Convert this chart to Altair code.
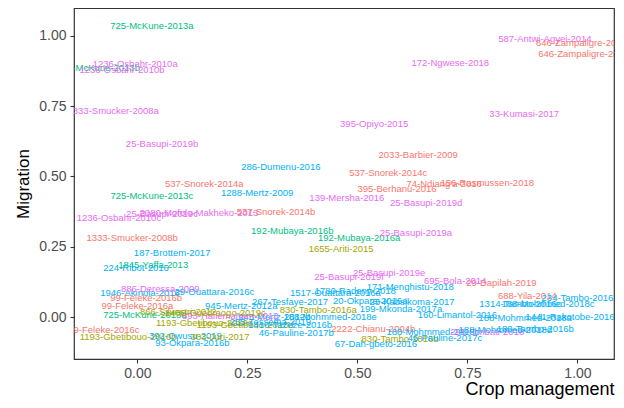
import altair as alt
import pandas as pd

labels = [
    "725-McKune-2013a", "725-McKune-2013b", "1236-Osbahr-2010a", "1236-Osbahr-2010b",
    "1333-Smucker-2008a", "172-Ngwese-2018", "587-Antwi-Agyei-2014", "646-Zampaligre-2014a",
    "646-Zampaligre-2014b", "33-Kumasi-2017", "395-Opiyo-2015", "25-Basupi-2019b",
    "286-Dumenu-2016", "537-Snorek-2014a", "1288-Mertz-2009", "725-McKune-2013c",
    "1236-Osbahr-2010c", "25-Basupi-2019c", "2080-Mofolo-Makheko-2013", "537-Snorek-2014b",
    "1333-Smucker-2008b", "187-Brottem-2017", "192-Mubaya-2016b", "192-Mubaya-2016a",
    "1655-Ariti-2015", "139-Mersha-2016", "2033-Barbier-2009", "537-Snorek-2014c",
    "395-Berhanu-2016", "74-Ndiang'a-2016", "156-Rasmussen-2018", "25-Basupi-2019d",
    "25-Basupi-2019a", "1845-Yaffa-2013", "224-Ribot-2016", "1946-Akinola-2016",
    "886-Deressa-2009", "99-Feleke-2016b", "29-Ouattara-2016c", "99-Feleke-2016a",
    "725-McKune-2013d", "866-Silvestri-2012", "1193-Gbetibouo-2010c", "99-Feleke-2016c",
    "1193-Gbetibouo-2010b", "392-Owusu-2019", "93-Okpara-2016b", "303-Juri-2017",
    "945-Mertz-2012a", "945-Mertz-2012b", "188-Mohmmed-2018e", "267-Tesfaye-2017",
    "830-Tambo-2016a", "830-Tambo-2016b", "1517-Ouattara-2016a", "1780-Radeny-2018",
    "171-Menghistu-2018", "20-Okpara-2016a", "23-Kabsikoma-2017", "199-Mkonda-2017a",
    "160-Limantol-2016", "2222-Chianu-2004b", "46-Pauline-2017b", "67-Dah-gbeto-2016",
    "46-Pauline-2017c", "188-Mohmmed-2018b", "295-Ombati-2018", "188-Mohmmed-2018d",
    "180-Tambo-2016b", "1314-Tambo-2016c", "188-Mohmmed-2018c", "688-Yila-2014",
    "234-Tambo-2016a", "188-Mohmmed-2018a", "1441-Rakotobe-2016", "29-Dapilah-2019",
    "695-Bola-2014", "25-Basupi-2019e", "25-Basupi-2019f", "1193-Gbetibouo-2010d",
    "255-Tessema-2019", "1410-Tazeze-2016b", "893-Hailemariam-2013", "1406-Ouedraogo-2019c",
]

crop = [
    0.033, -0.089, -0.005, -0.035,
    -0.055, 0.711, 0.926, 1.015,
    1.020, 0.879, 0.538, 0.056,
    0.326, 0.152, 0.272, 0.033,
    -0.042, 0.056, 0.140, 0.315,
    -0.012, 0.079, 0.352, 0.504,
    0.463, 0.476, 0.638, 0.570,
    0.590, 0.697, 0.795, 0.656,
    0.633, 0.036, -0.003, 0.006,
    0.052, 0.020, 0.175, 0.000,
    0.017, 0.093, 0.152, -0.076,
    -0.021, 0.109, 0.125, 0.188,
    0.236, 0.311, 0.438, 0.347,
    0.411, 0.597, 0.450, 0.495,
    0.620, 0.529, 0.624, 0.599,
    0.727, 0.536, 0.361, 0.542,
    0.699, 0.672, 0.795, 0.836,
    0.904, 0.870, 0.933, 0.886,
    1.006, 0.881, 0.983, 0.827,
    0.722, 0.572, 0.481, 0.245,
    0.302, 0.347, 0.211, 0.177,
]

migration = [
    1.035, 0.886, 0.900, 0.879,
    0.733, 0.903, 0.988, 0.974,
    0.935, 0.723, 0.687, 0.616,
    0.535, 0.475, 0.443, 0.429,
    0.354, 0.368, 0.371, 0.375,
    0.283, 0.227, 0.305, 0.283,
    0.241, 0.422, 0.577, 0.514,
    0.457, 0.475, 0.478, 0.407,
    0.298, 0.184, 0.174, 0.085,
    0.099, 0.067, 0.089, 0.039,
    0.007, 0.018, -0.021, -0.046,
    -0.071, -0.067, -0.092, -0.071,
    0.039, 0.000, 0.000, 0.053,
    0.025, -0.078, 0.085, 0.092,
    0.106, 0.057, 0.053, 0.028,
    0.007, -0.043, -0.057, -0.096,
    -0.074, -0.053, -0.053, -0.046,
    -0.043, 0.046, 0.046, 0.074,
    0.067, -0.004, 0.000, 0.120,
    0.128, 0.156, 0.142, -0.028,
    -0.018, -0.028, 0.004, 0.014,
]

# group codes: 1 salmon, 2 olive, 3 green, 4 blue, 5 pink
group = [
    3, 3, 5, 5,
    5, 5, 5, 1,
    1, 5, 5, 5,
    4, 1, 4, 3,
    5, 5, 5, 1,
    1, 4, 3, 3,
    2, 5, 1, 1,
    1, 1, 1, 5,
    5, 3, 4, 4,
    5, 1, 4, 1,
    3, 2, 2, 1,
    2, 4, 4, 2,
    4, 4, 4, 4,
    2, 2, 4, 4,
    4, 4, 4, 4,
    4, 1, 4, 4,
    4, 4, 5, 4,
    4, 4, 4, 1,
    4, 4, 4, 1,
    5, 5, 5, 2,
    4, 4, 5, 2,
]

group_names = ["1", "2", "3", "4", "5"]
group_colors = ["#F8766D", "#A3A500", "#00BF7D", "#00B0F6", "#E76BF3"]
x_ticks = [0.0, 0.25, 0.5, 0.75, 1.0]
y_ticks = [0.0, 0.25, 0.5, 0.75, 1.0]

df = pd.DataFrame({
    "label": labels,
    "crop": crop,
    "migration": migration,
    "group": [str(g) for g in group],
})

chart = alt.Chart(df).mark_text(
    font="Liberation Sans", fontSize=9.5, clip=True, align="center", baseline="middle"
).encode(
    x=alt.X("crop:Q", title="Crop management",
            scale=alt.Scale(domain=[-0.144, 1.083], nice=False, zero=False),
            axis=alt.Axis(values=x_ticks, format=".2f", titleAnchor="end", titleAlign="right",
                          titleFontSize=18, titlePadding=0, labelPadding=3)),
    y=alt.Y("migration:Q", title="Migration",
            scale=alt.Scale(domain=[-0.149, 1.099], nice=False, zero=False),
            axis=alt.Axis(values=y_ticks, format=".2f", titleFontSize=17, titlePadding=6)),
    color=alt.Color("group:N", scale=alt.Scale(domain=group_names, range=group_colors), legend=None),
    text="label:N",
).properties(
    width=540, height=351,
    autosize=alt.AutoSizeParams(type="none"),
    padding={"left": 66, "top": 0, "right": 2, "bottom": 41},
).configure_view(
    stroke="#333333", strokeWidth=1.2, fill="white"
).configure_axis(
    domain=False, grid=False,
    tickColor="#333333", tickSize=4, tickWidth=1.1,
    labelColor="#4D4D4D", labelFont="Liberation Sans", labelFontSize=14, labelPadding=4,
    titleColor="black", titleFont="Liberation Sans", titleFontWeight="normal",
)

chart.save("out.html", embed_options={"renderer": "svg", "actions": False})
